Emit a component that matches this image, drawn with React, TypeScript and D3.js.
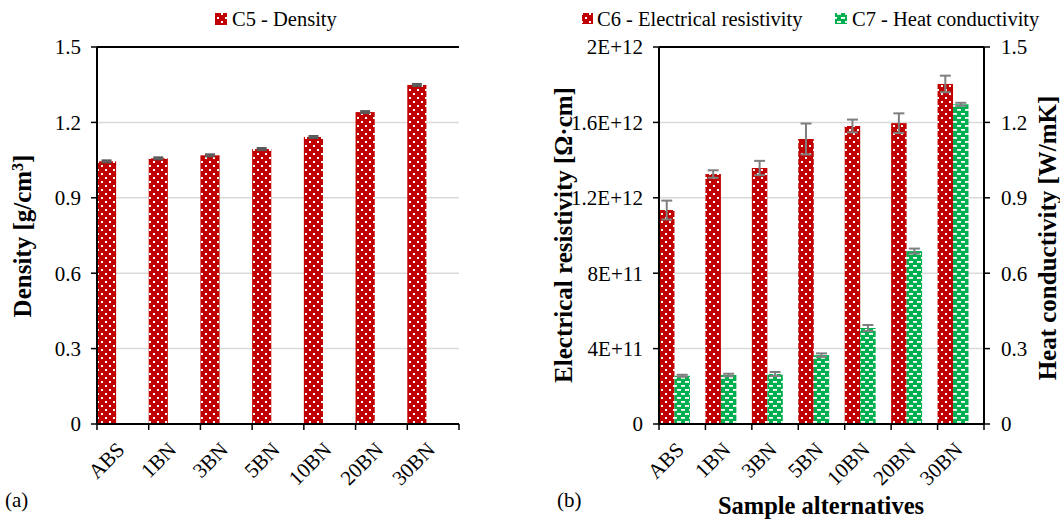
import { scaleBand, scaleLinear } from "d3";

const samples = ["ABS", "1BN", "3BN", "5BN", "10BN", "20BN", "30BN"];

// C5 - density [g/cm3]
const density = [1.045, 1.057, 1.069, 1.094, 1.142, 1.241, 1.349];
const densityErr = [0.004, 0.004, 0.004, 0.004, 0.004, 0.004, 0.004];

// C6 - electrical resistivity [Ohm.cm]
const resistivity = [1.135e12, 1.326e12, 1.358e12, 1.512e12, 1.581e12, 1.596e12, 1.804e12];
const resistivityErr = [0.05e12, 0.02e12, 0.038e12, 0.082e12, 0.034e12, 0.052e12, 0.044e12];

// C7 - heat conductivity [W/mK]
const conductivity = [0.192, 0.195, 0.199, 0.274, 0.382, 0.688, 1.272];
const conductivityErr = [0.004, 0.005, 0.008, 0.007, 0.012, 0.01, 0.006];

const densityTicks = [0, 0.3, 0.6, 0.9, 1.2, 1.5];
const densityTickLabels = ["0", "0.3", "0.6", "0.9", "1.2", "1.5"];
const resistivityTicks = [0, 4e11, 8e11, 1.2e12, 1.6e12, 2e12];
const resistivityTickLabels = ["0", "4E+11", "8E+11", "1.2E+12", "1.6E+12", "2E+12"];
const conductivityTicks = [0, 0.3, 0.6, 0.9, 1.2, 1.5];
const conductivityTickLabels = ["0", "0.3", "0.6", "0.9", "1.2", "1.5"];

const RED = "#c00000";
const GREEN = "#00b050";
const GRID = "#d9d9d9";
const FONT = "'Liberation Serif', 'Times New Roman', serif";

const top = 47;
const bottom = 424;

function XAxis({ x }: { x: any }) {
  const [x0, x1] = x.range();
  const edges = samples.map((s) => x(s)).concat([x1]);
  return (
    <g>
      <line x1={x0} x2={x1} y1={bottom} y2={bottom} stroke="#000" strokeWidth="2" />
      {edges.map((e, i) => (
        <line key={i} x1={e} x2={e} y1={bottom} y2={bottom + 6} stroke="#000" strokeWidth="1.5" />
      ))}
      {samples.map((s) => {
        const cx = (x(s) ?? 0) + x.bandwidth() / 2 + 3;
        return (
          <text
            key={s}
            transform={`translate(${cx},451) rotate(-45)`}
            textAnchor="end"
            fontSize="21"
          >
            {s}
          </text>
        );
      })}
    </g>
  );
}

function Grid({ y, ticks, x0, x1 }: { y: any; ticks: number[]; x0: number; x1: number }) {
  return (
    <g>
      {ticks.slice(1, -1).map((t) => (
        <line key={t} x1={x0} x2={x1} y1={y(t)} y2={y(t)} stroke={GRID} strokeWidth="1.5" />
      ))}
      <line x1={x0} x2={x1} y1={top} y2={top} stroke="#000" strokeWidth="2" />
    </g>
  );
}

function YAxis({ y, ticks, labels, xPos, side }: { y: any; ticks: number[]; labels: string[]; xPos: number; side: "left" | "right" }) {
  const dir = side === "left" ? -1 : 1;
  return (
    <g>
      <line x1={xPos} x2={xPos} y1={top} y2={bottom} stroke="#000" strokeWidth="2" />
      {ticks.map((t, i) => (
        <g key={t}>
          <line x1={xPos} x2={xPos + dir * 6} y1={y(t)} y2={y(t)} stroke="#000" strokeWidth="1.5" />
          <text
            x={side === "left" ? xPos - 16 : xPos + 17}
            y={y(t)}
            dy="0.35em"
            textAnchor={side === "left" ? "end" : "start"}
            fontSize="21"
          >
            {labels[i]}
          </text>
        </g>
      ))}
    </g>
  );
}

function ErrorBar({ cx, y, value, err, color, cap }: { cx: number; y: any; value: number; err: number; color: string; cap: number }) {
  const y1 = y(value + err);
  const y2 = y(value - err);
  return (
    <g stroke={color} strokeWidth="2">
      <line x1={cx} x2={cx} y1={y1} y2={y2} />
      <line x1={cx - cap / 2} x2={cx + cap / 2} y1={y1} y2={y1} />
      <line x1={cx - cap / 2} x2={cx + cap / 2} y1={y2} y2={y2} />
    </g>
  );
}

export default function App() {
  const width = 1060;
  const height = 519;

  // left panel (a)
  const xa = scaleBand<string>().domain(samples).range([97, 459]).padding(0);
  const ya = scaleLinear().domain([0, 1.5]).range([bottom, top]);
  const barA = xa.bandwidth() * 0.37;

  // right panel (b)
  const xb = scaleBand<string>().domain(samples).range([659, 984]).padding(0);
  const yRes = scaleLinear().domain([0, 2e12]).range([bottom, top]);
  const yCond = scaleLinear().domain([0, 1.5]).range([bottom, top]);
  const sub = scaleBand<string>()
    .domain(["res", "cond", "none"])
    .range([0, xb.bandwidth()])
    .padding(0);

  return (
    <svg width={width} height={height} style={{ display: "block", fontFamily: FONT }} fontFamily={FONT}>
      <style>{"body{margin:0}"}</style>
      <defs>
        <pattern id="dots" width="8" height="8" patternUnits="userSpaceOnUse">
          <rect width="8" height="8" fill={RED} />
          <rect x="1" y="1" width="2" height="2" fill="#fff" />
          <rect x="5" y="5" width="2" height="2" fill="#fff" />
        </pattern>
        <pattern id="dashes" width="8" height="8" patternUnits="userSpaceOnUse">
          <rect width="8" height="8" fill={GREEN} />
          <rect x="1" y="1" width="4" height="1.8" fill="#fff" />
          <rect x="5" y="5" width="4" height="1.8" fill="#fff" />
          <rect x="-3" y="5" width="4" height="1.8" fill="#fff" />
        </pattern>
      </defs>
      <rect width={width} height={height} fill="#fff" />

      {/* ---------- (a) density ---------- */}
      <Grid y={ya} ticks={densityTicks} x0={97} x1={459} />
      {samples.map((s, i) => {
        const x0 = xa(s) ?? 0;
        return (
          <g key={s}>
            <rect x={x0} y={ya(density[i])} width={barA} height={bottom - ya(density[i])} fill="url(#dots)" />
            <ErrorBar cx={x0 + barA / 2} y={ya} value={density[i]} err={densityErr[i]} color="#595959" cap={10} />
          </g>
        );
      })}
      <YAxis y={ya} ticks={densityTicks} labels={densityTickLabels} xPos={97} side="left" />
      <XAxis x={xa} />
      <text transform="translate(31,236) rotate(-90)" textAnchor="middle" fontSize="25" fontWeight="bold">
        Density [g/cm<tspan baselineShift="super" fontSize="16">3</tspan>]
      </text>
      <rect x="215" y="13" width="12" height="12" fill="url(#dots)" />
      <text x="232" y="26" fontSize="20.5">C5 - Density</text>
      <text x="5" y="507" fontSize="21">(a)</text>

      {/* ---------- (b) resistivity + conductivity ---------- */}
      <Grid y={yRes} ticks={resistivityTicks} x0={659} x1={984} />
      {samples.map((s, i) => {
        const x0 = xb(s) ?? 0;
        const xr = x0 + (sub("res") ?? 0);
        const xc = x0 + (sub("cond") ?? 0);
        const w = sub.bandwidth();
        return (
          <g key={s}>
            <rect x={xr} y={yRes(resistivity[i])} width={w} height={bottom - yRes(resistivity[i])} fill="url(#dots)" />
            <rect x={xc} y={yCond(conductivity[i])} width={w} height={bottom - yCond(conductivity[i])} fill="url(#dashes)" />
            <ErrorBar cx={xr + w / 2} y={yRes} value={resistivity[i]} err={resistivityErr[i]} color="#7f7f7f" cap={11} />
            <ErrorBar cx={xc + w / 2} y={yCond} value={conductivity[i]} err={conductivityErr[i]} color="#7f7f7f" cap={11} />
          </g>
        );
      })}
      <YAxis y={yRes} ticks={resistivityTicks} labels={resistivityTickLabels} xPos={659} side="left" />
      <YAxis y={yCond} ticks={conductivityTicks} labels={conductivityTickLabels} xPos={984} side="right" />
      <XAxis x={xb} />
      <text transform="translate(572,235) rotate(-90)" textAnchor="middle" fontSize="25" fontWeight="bold">
        Electrical resistivity [Ω·cm]
      </text>
      <text transform="translate(1056,238) rotate(-90)" textAnchor="middle" fontSize="25" fontWeight="bold">
        Heat conductivity [W/mK]
      </text>
      <text x="821" y="514" textAnchor="middle" fontSize="24.5" fontWeight="bold">
        Sample alternatives
      </text>
      <rect x="582" y="13" width="11" height="11" fill="url(#dots)" />
      <text x="597" y="26" fontSize="20.5">C6 - Electrical resistivity</text>
      <rect x="835" y="13" width="12" height="11" fill="url(#dashes)" />
      <text x="852" y="26" fontSize="20.5">C7 - Heat conductivity</text>
      <text x="557" y="507" fontSize="21">(b)</text>
    </svg>
  );
}
